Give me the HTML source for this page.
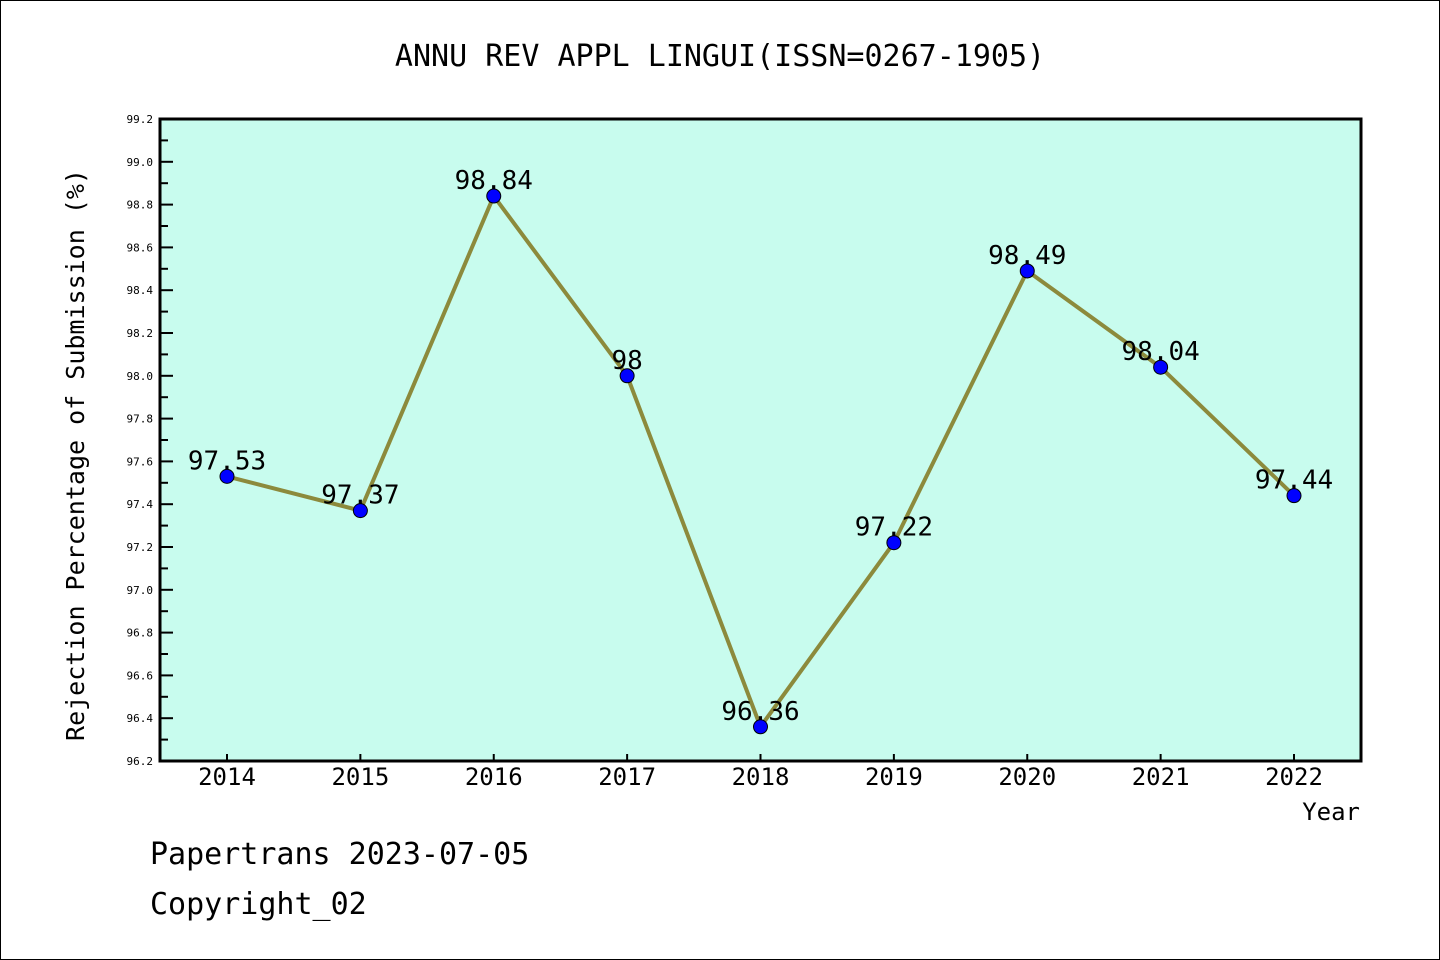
<!DOCTYPE html>
<html><head><meta charset="utf-8"><style>
body{margin:0;background:#fff}
svg{display:block}
text{font-family:"DejaVu Sans Mono","Liberation Mono",monospace;fill:#000}
</style></head><body>
<svg width="1440" height="960" xmlns="http://www.w3.org/2000/svg">
<rect x="0.5" y="0.5" width="1439" height="959" fill="#fff" stroke="#000"/>
<text x="720" y="66" font-size="30" text-anchor="middle">ANNU REV APPL LINGUI(ISSN=0267-1905)</text>
<rect x="160" y="119" width="1201" height="642" fill="#c8fcee"/>
<g id="yticks"></g><g id="xticks"></g>
<polyline id="line" fill="none" stroke="#8c8a3c" stroke-width="4"/>
<g id="pts"></g>
<rect x="160" y="119" width="1201" height="642" fill="none" stroke="#000" stroke-width="3"/>
<text x="0" y="0" font-size="25" text-anchor="middle" transform="translate(84,455) rotate(-90)">Rejection Percentage of Submission (%)</text>
<text x="1360" y="820" font-size="24" text-anchor="end">Year</text>
<text x="150" y="864" font-size="30">Papertrans 2023-07-05</text>
<text x="150" y="914" font-size="30">Copyright_02</text>
</svg>
<script>
const years=["2014","2015","2016","2017","2018","2019","2020","2021","2022"];
const values=[97.53,97.37,98.84,98,96.36,97.22,98.49,98.04,97.44];
const labels=["97.53","97.37","98.84","98","96.36","97.22","98.49","98.04","97.44"];
const yTicks=["96.2","96.4","96.6","96.8","97.0","97.2","97.4","97.6","97.8","98.0","98.2","98.4","98.6","98.8","99.0","99.2"];
const NS="http://www.w3.org/2000/svg";
const yMin=96.2,yMax=99.2,plotTop=119,plotBot=761;
const yS=v=>plotBot-(v-yMin)/(yMax-yMin)*(plotBot-plotTop);
const xS=i=>227+i*133.375;
function mk(t,a,p){const e=document.createElementNS(NS,t);for(const k in a)e.setAttribute(k,a[k]);p.appendChild(e);return e;}
const yg=document.getElementById('yticks');
yTicks.forEach((t,i)=>{const v=parseFloat(t),yy=yS(v);
 const l=mk('line',{x1:160,x2:173,y1:yy,y2:yy,stroke:'#000','stroke-width':2},yg);
 
 
 const tx=mk('text',{x:153,y:yy+4,'font-size':11,'text-anchor':'end'},yg);tx.textContent=t;
 
 
 if(i<yTicks.length-1){const ym=yS(v+0.1);
  const m=mk('line',{x1:160,x2:168,y1:ym,y2:ym,stroke:'#000','stroke-width':2},yg);
  
  }
});
const xg=document.getElementById('xticks');
years.forEach((t,i)=>{
 const l=mk('line',{x1:xS(i),x2:xS(i),y1:761,y2:754,stroke:'#000','stroke-width':2},xg);
 
 
 const tx=mk('text',{x:xS(i),y:785,'font-size':24,'text-anchor':'middle'},xg);tx.textContent=t;
 
 
});
document.getElementById('line').setAttribute('points',values.map((v,i)=>xS(i)+','+yS(v)).join(' '));
const pg=document.getElementById('pts');
values.forEach((v,i)=>{
 const c=mk('circle',{cx:xS(i),cy:yS(v),r:7,fill:'#0000ff',stroke:'#000','stroke-width':1},pg);
 
 
 const tx=mk('text',{x:xS(i),y:yS(v)-7,'font-size':26,'text-anchor':'middle'},pg);tx.textContent=labels[i];
 
 
});
</script>
</body></html>
